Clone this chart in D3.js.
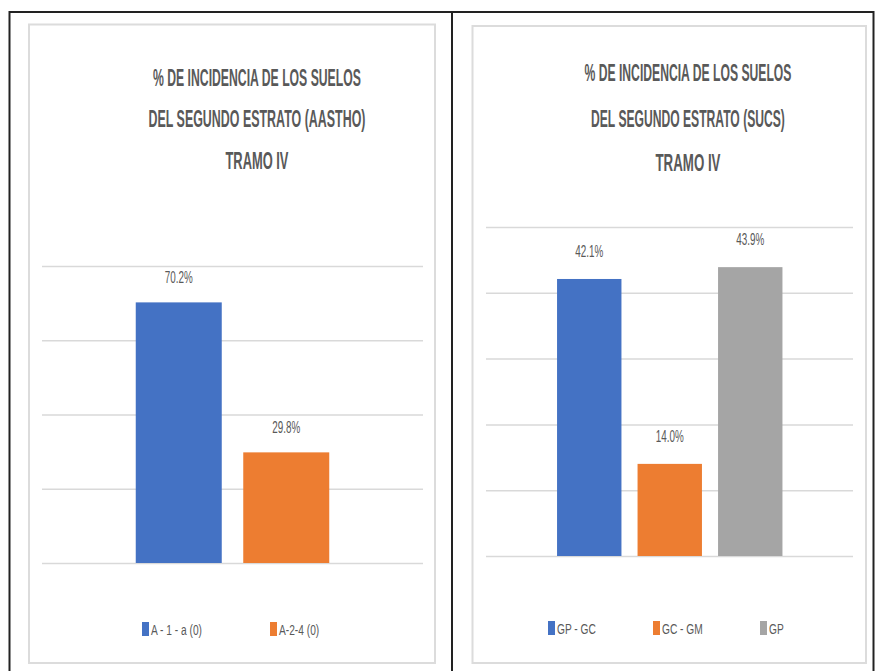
<!DOCTYPE html>
<html><head><meta charset="utf-8">
<script src="https://cdn.jsdelivr.net/npm/d3@7"></script>
<style>
html,body{margin:0;padding:0;background:#fff;}
svg{display:block;}
text{font-family:"Liberation Sans",Arial,sans-serif;}
</style></head>
<body>
<svg id="c" width="875" height="671"></svg>
<script>
// ---- data ----
const titleAASHTO = ["% DE INCIDENCIA DE LOS SUELOS", "DEL SEGUNDO ESTRATO (AASTHO)", "TRAMO IV"];
const catsAASHTO = ["A - 1 - a (0)", "A-2-4 (0)"];
const valsAASHTO = [0.702, 0.298];
const labelsAASHTO = ["70.2%", "29.8%"];
const ticksAASHTO = [0, 0.2, 0.4, 0.6, 0.8];

const titleSUCS = ["% DE INCIDENCIA DE LOS SUELOS", "DEL SEGUNDO ESTRATO (SUCS)", "TRAMO IV"];
const catsSUCS = ["GP - GC", "GC - GM", "GP"];
const valsSUCS = [0.421, 0.140, 0.439];
const labelsSUCS = ["42.1%", "14.0%", "43.9%"];
const ticksSUCS = [0, 0.1, 0.2, 0.3, 0.4, 0.5];

const colors = ["#4472C4", "#ED7D31", "#A5A5A5"];

const svg = d3.select("#c");

// outer table
svg.append("rect").attr("x",9.5).attr("y",12).attr("width",864).attr("height",680)
  .attr("fill","none").attr("stroke","#222").attr("stroke-width",2);
svg.append("line").attr("x1",452).attr("x2",452).attr("y1",12).attr("y2",671)
  .attr("stroke","#222").attr("stroke-width",2);

// place text squeezed horizontally to a target width, centred on cx
function squeezed(g, str, cx, y, w, size, weight){
  const t = g.append("text").attr("font-size",size).attr("font-weight",weight||"normal")
    .attr("fill","#595959").text(str);
  const nat = t.node().getComputedTextLength();
  const s = w / nat;
  t.attr("transform",`translate(${cx - w/2},${y}) scale(${s},1)`);
  return t;
}

function chart(cfg){
  const g = svg.append("g");
  g.append("rect").attr("x",cfg.box[0]).attr("y",cfg.box[1]).attr("width",cfg.box[2]).attr("height",cfg.box[3])
    .attr("fill","#fff").attr("stroke","#dcdcdc").attr("stroke-width",2);
  cfg.title.forEach((t,i)=>{
    squeezed(g, t, cfg.titleX, cfg.titleY[i], cfg.titleW[i], 24, "bold");
  });
  const y = d3.scaleLinear().domain(cfg.domain).range(cfg.yRange);
  const x = d3.scaleBand().domain(cfg.cats).range(cfg.xRange).paddingInner(0.2).paddingOuter(0.1);
  const ax = d3.axisLeft(y).tickValues(cfg.ticks).tickSize(-(cfg.grid[1]-cfg.grid[0])).tickFormat("");
  const ag = g.append("g").attr("transform",`translate(${cfg.grid[0]},0)`).call(ax);
  ag.select(".domain").remove();
  ag.selectAll(".tick line").attr("stroke","#d9d9d9").attr("stroke-width",1.5);
  g.selectAll("rect.bar").data(cfg.vals).enter().append("rect").attr("class","bar")
    .attr("x",(d,i)=>x(cfg.cats[i])).attr("width",x.bandwidth())
    .attr("y",d=>y(d)).attr("height",d=>y(0)-y(d))
    .attr("fill",(d,i)=>colors[i]);
  cfg.vals.forEach((d,i)=>{
    const cx = x(cfg.cats[i]) + x.bandwidth()/2;
    squeezed(g, cfg.labels[i], cx, y(d)-cfg.labOff, 28, 17, "normal");
  });
  cfg.cats.forEach((c,i)=>{
    const lx = cfg.legX[i];
    g.append("rect").attr("x",lx).attr("y",cfg.legY-7).attr("width",7).attr("height",14).attr("fill",colors[i]);
    g.append("text").attr("transform",`translate(${lx+9},${cfg.legY+5.5}) scale(0.68,1)`)
      .attr("font-size",15).attr("fill","#595959").text(c);
  });
}

chart({
  box:[29,24.5,406,638.5], title:titleAASHTO, titleX:257, titleW:[208,217,63], titleY:[86,127,169],
  domain:[0,0.8], yRange:[563,266], ticks:ticksAASHTO, grid:[42,423],
  cats:catsAASHTO, vals:valsAASHTO, labels:labelsAASHTO, xRange:[125,340], labOff:19,
  legX:[142,270], legY:629
});
chart({
  box:[472.5,26,393.5,637], title:titleSUCS, titleX:688, titleW:[207,194,65], titleY:[81,127,171],
  domain:[0,0.5], yRange:[556,227], ticks:ticksSUCS, grid:[486,853],
  cats:catsSUCS, vals:valsSUCS, labels:labelsSUCS, xRange:[549,790.5], labOff:22,
  legX:[548,653,760], legY:628
});
</script>
</body></html>
